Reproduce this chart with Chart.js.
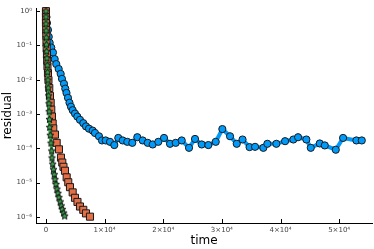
<!DOCTYPE html>
<html>
<head>
<meta charset="utf-8">
<script src="https://cdn.jsdelivr.net/npm/chart.js@4"></script>
<style>
  html, body { margin: 0; padding: 0; background: #fff; }
  #wrap { width: 374px; height: 249px; }
</style>
</head>
<body>
<div id="wrap"><canvas id="chart"></canvas></div>
<script>
// series 1 - blue circles
const blueX = [0, 85, 171, 341, 478, 631, 904, 1194, 1484, 1757, 2167, 2508, 2730, 3071, 3293, 3497, 3753, 4009, 4265, 4555, 4947, 5340, 5800, 6363, 6824, 7336, 7967, 8359, 9042, 9554, 10185, 10918, 11652, 12334, 13085, 13870, 14723, 15576, 16497, 17350, 18203, 19158, 20131, 21154, 22127, 23150, 24396, 25419, 26562, 27688, 28951, 30077, 31390, 32533, 33523, 34717, 35655, 37071, 37754, 39290, 40773, 42190, 42991, 44407, 45158, 46693, 47546, 49423, 50668, 52937, 53858];
const blueY = [1, 0.673, 0.452, 0.284, 0.179, 0.120, 0.0865, 0.0621, 0.0399, 0.0286, 0.0206, 0.0148, 0.0106, 0.00762, 0.00548, 0.00412, 0.00296, 0.00213, 0.00163, 0.00129, 0.00103, 8.41e-4, 6.76e-4, 5.41e-4, 4.35e-4, 3.73e-4, 3.27e-4, 2.79e-4, 2.24e-4, 1.69e-4, 1.69e-4, 1.54e-4, 1.24e-4, 2.00e-4, 1.69e-4, 1.54e-4, 1.44e-4, 2.10e-4, 1.69e-4, 1.44e-4, 1.29e-4, 1.54e-4, 2.00e-4, 1.35e-4, 1.44e-4, 1.69e-4, 1.03e-4, 1.87e-4, 1.29e-4, 1.24e-4, 1.54e-4, 3.63e-4, 2.24e-4, 1.35e-4, 1.80e-4, 1.08e-4, 1.10e-4, 1.03e-4, 1.35e-4, 1.35e-4, 1.61e-4, 1.80e-4, 2.10e-4, 1.80e-4, 1.03e-4, 1.38e-4, 1.21e-4, 9.06e-5, 2.00e-4, 1.69e-4, 1.69e-4];

// series 2 - orange squares
const orangeX = [0, 0, 0, 34, 51, 85, 119, 171, 205, 256, 341, 427, 563, 682, 802, 904, 1024, 1143, 1245, 1535, 1825, 2218, 2559, 2781, 2986, 3241, 3531, 3804, 4094, 4555, 4947, 5374, 5800, 6363, 6824, 7506];
const orangeY = [1, 0.673, 0.452, 0.284, 0.191, 0.120, 0.0809, 0.0545, 0.0366, 0.0246, 0.0155, 0.00975, 0.00574, 0.00338, 0.00213, 0.00134, 8.41e-4, 5.30e-4, 3.80e-4, 2.51e-4, 1.44e-4, 9.29e-5, 5.33e-5, 3.83e-5, 2.88e-5, 2.21e-5, 1.42e-5, 1.02e-5, 7.33e-6, 5.16e-6, 3.59e-6, 2.72e-6, 2.00e-6, 1.60e-6, 1.26e-6, 1.01e-6];

// series 3 - green stars
const greenX = [0, 0, 0, 34, 51, 85, 119, 171, 222, 273, 341, 392, 444, 512, 546, 597, 631, 734, 853, 972, 1024, 1143, 1280, 1416, 1535, 1706, 1877, 2047, 2218, 2440, 2610, 2781, 3020, 3190];
const greenY = [1, 0.673, 0.423, 0.266, 0.168, 0.105, 0.0664, 0.0418, 0.0263, 0.0165, 0.00975, 0.00574, 0.00338, 0.00199, 0.00117, 6.90e-4, 4.06e-4, 2.39e-4, 1.41e-4, 8.32e-5, 5.22e-5, 3.44e-5, 2.37e-5, 1.70e-5, 1.22e-5, 8.77e-6, 6.41e-6, 4.83e-6, 3.63e-6, 2.72e-6, 2.08e-6, 1.64e-6, 1.29e-6, 1.05e-6];

// tick positions + labels
const xTicks = [0, 10000, 20000, 30000, 40000, 50000];
const xTickLabels = ["0", "1×10⁴", "2×10⁴", "3×10⁴", "4×10⁴", "5×10⁴"];
const yTicks = [1e-6, 1e-5, 1e-4, 1e-3, 1e-2, 1e-1, 1];
const yTickLabels = ["10⁻⁶", "10⁻⁵", "10⁻⁴", "10⁻³", "10⁻²", "10⁻¹", "10⁰"];

const toPts = (xs, ys) => xs.map((x, i) => ({ x: x, y: ys[i] }));

// 5-point star marker (chart.js 'star' is only a cross)
function makeStar(size, fill) {
  const c = document.createElement("canvas");
  c.width = size; c.height = size;
  const g = c.getContext("2d");
  const cx = size / 2, cy = size / 2, R = size / 2 - 0.8, r = R * 0.45;
  g.beginPath();
  for (let i = 0; i < 10; i++) {
    const a = -Math.PI / 2 + i * Math.PI / 5;
    const rad = i % 2 === 0 ? R : r;
    g.lineTo(cx + rad * Math.cos(a), cy + rad * Math.sin(a));
  }
  g.closePath();
  g.fillStyle = fill;
  g.fill();
  g.strokeStyle = "#111";
  g.lineWidth = 1;
  g.stroke();
  return c;
}
const starImg = makeStar(9, "#3EA44E");

// inward tick marks like the GR backend
const innerTicks = {
  id: "innerTicks",
  afterDraw(chart) {
    const { ctx, chartArea, scales } = chart;
    ctx.save();
    ctx.strokeStyle = "#000";
    ctx.lineWidth = 1;
    ctx.beginPath();
    yTicks.forEach((v) => {
      const py = Math.round(scales.y.getPixelForValue(v)) + 0.5;
      ctx.moveTo(chartArea.left, py);
      ctx.lineTo(chartArea.left + 4, py);
    });
    xTicks.forEach((v) => {
      const px = Math.round(scales.x.getPixelForValue(v)) + 0.5;
      ctx.moveTo(px, chartArea.bottom);
      ctx.lineTo(px, chartArea.bottom - 4);
    });
    ctx.stroke();
    ctx.restore();
  },
};

const tickFont = { family: "DejaVu Sans", size: 7 };

new Chart(document.getElementById("chart"), {
  type: "line",
  data: {
    datasets: [
      {
        data: toPts(blueX, blueY),
        borderColor: "#009AFA",
        borderWidth: 4,
        backgroundColor: "#009AFA",
        pointBackgroundColor: "#009AFA",
        pointBorderColor: "#1a1a1a",
        pointBorderWidth: 1,
        pointRadius: 3.6,
        clip: false,
        order: 3,
      },
      {
        data: toPts(orangeX, orangeY),
        borderColor: "#E36F47",
        borderWidth: 3,
        pointStyle: "rect",
        pointBackgroundColor: "#E36F47",
        pointBorderColor: "#1a1a1a",
        pointBorderWidth: 1,
        pointRadius: 5,
        clip: false,
        order: 2,
      },
      {
        data: toPts(greenX, greenY),
        borderColor: "#3EA44E",
        borderWidth: 3,
        pointStyle: starImg,
        pointRadius: 4,
        clip: false,
        order: 1,
      },
    ],
  },
  options: {
    responsive: true,
    maintainAspectRatio: false,
    animation: false,
    parsing: false,
    layout: { autoPadding: false, padding: { top: 3, right: 2, left: 0, bottom: 0 } },
    plugins: { legend: { display: false }, tooltip: { enabled: false } },
    scales: {
      x: {
        type: "linear",
        min: -1700,
        max: 55600,
        grid: { display: false, drawTicks: false },
        border: { display: true, color: "#000", width: 1 },
        afterBuildTicks: (s) => { s.ticks = xTicks.map((v) => ({ value: v })); },
        ticks: {
          font: tickFont,
          color: "#444",
          padding: 3,
          maxRotation: 0,
          callback: (v) => xTickLabels[xTicks.indexOf(v)],
        },
        title: {
          display: true,
          text: "time",
          font: { family: "DejaVu Sans", size: 12 },
          color: "#000",
          padding: { top: 0, bottom: 1 },
        },
        afterFit: (s) => { s.height = 26; },
      },
      y: {
        type: "logarithmic",
        min: 6.6e-7,
        max: 1.22,
        grid: { display: false, drawTicks: false },
        border: { display: true, color: "#000", width: 1 },
        afterBuildTicks: (s) => { s.ticks = yTicks.map((v) => ({ value: v })); },
        ticks: {
          font: tickFont,
          color: "#444",
          padding: 4,
          callback: (v) => yTickLabels[yTicks.indexOf(v)],
        },
        title: {
          display: true,
          text: "residual",
          font: { family: "DejaVu Sans", size: 12 },
          color: "#000",
          padding: { top: 1, bottom: 0 },
        },
        afterFit: (s) => { s.width = 36; },
      },
    },
  },
  plugins: [innerTicks],
});
</script>
</body>
</html>
